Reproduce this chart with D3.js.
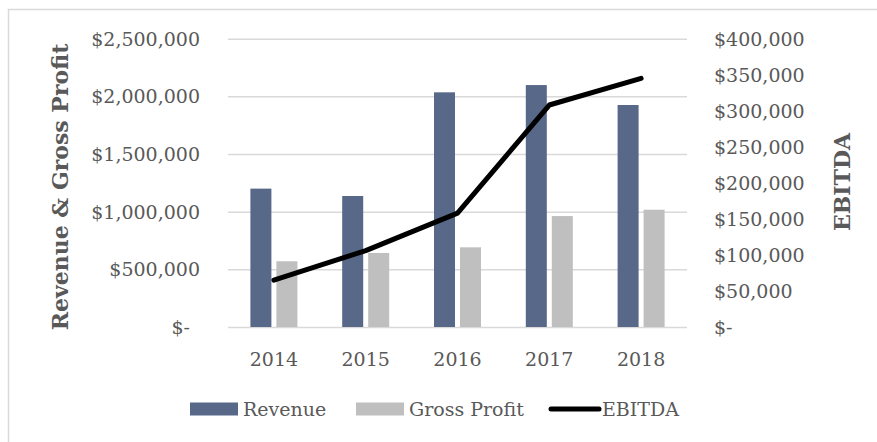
<!DOCTYPE html>
<html>
<head>
<meta charset="utf-8">
<script src="https://cdn.jsdelivr.net/npm/d3@7"></script>
<style>
	body { margin: 0; background: #fff; }
</style>
</head>
<body>
<svg></svg>
<script>
const years = ['2014', '2015', '2016', '2017', '2018'];
const revenue = [1200000, 1136000, 2035000, 2098000, 1925000];
const grossProfit = [570000, 642000, 691000, 962000, 1017000];
const ebitda = [65000, 106000, 158000, 308000, 345000];
const leftTicks = [0, 500000, 1000000, 1500000, 2000000, 2500000];
const rightTicks = [0, 50000, 100000, 150000, 200000, 250000, 300000, 350000, 400000];

const width = 877;
const height = 442;
const margin = { top: 38.7, right: 190, bottom: 115, left: 228 };
const innerWidth = width - margin.left - margin.right;
const innerHeight = height - margin.top - margin.bottom;
const barWidth = 21;
const barGap = 5;

const fontFamily = "'DejaVu Serif', serif";
const tickFontSize = 19;
const textColor = '#595959';
const revenueColor = '#586889';
const grossColor = '#bfbfbf';
const gridColor = '#d9d9d9';

const svg = d3.select('svg')
	.attr('width', width)
	.attr('height', height)
	.style('display', 'block');

// outer chart border (right and bottom edges fall outside the picture)
svg.append('path')
	.attr('d', `M8.5,${height}V9.5H${width}`)
	.attr('fill', 'none')
	.attr('stroke', gridColor)
	.attr('stroke-width', 1.5);

const g = svg.append('g')
	.attr('transform', `translate(${margin.left},${margin.top})`);

const xScale = d3.scaleBand()
	.domain(years)
	.range([0, innerWidth]);

const yLeft = d3.scaleLinear()
	.domain([0, 2500000])
	.range([innerHeight, 0]);

const yRight = d3.scaleLinear()
	.domain([0, 400000])
	.range([innerHeight, 0]);

const money = d => d === 0 ? '$-' : '$' + d3.format(',')(d);

// gridlines only; labels are placed below as plain text
const gridG = g.append('g')
	.call(d3.axisLeft(yLeft)
		.tickValues(leftTicks)
		.tickFormat('')
		.tickSize(-innerWidth));
gridG.select('.domain').remove();
gridG.selectAll('.tick line')
	.attr('stroke', gridColor)
	.attr('stroke-width', 1.5);

function tickText(sel) {
	sel.attr('font-family', fontFamily)
		.attr('font-size', tickFontSize)
		.attr('fill', textColor);
}

svg.selectAll('text.left-tick').data(leftTicks)
	.enter().append('text')
		.attr('class', 'left-tick')
		.call(tickText)
		.attr('text-anchor', 'end')
		.attr('x', d => d === 0 ? 190 : 200)
		.attr('y', d => margin.top + yLeft(d) + 7)
		.text(money);

svg.selectAll('text.right-tick').data(rightTicks)
	.enter().append('text')
		.attr('class', 'right-tick')
		.call(tickText)
		.attr('text-anchor', 'start')
		.attr('x', margin.left + innerWidth + 27)
		.attr('y', d => margin.top + yRight(d) + 7)
		.text(money);

const groupCenter = d => xScale(d) + xScale.bandwidth() / 2;

svg.selectAll('text.x-tick').data(years)
	.enter().append('text')
		.attr('class', 'x-tick')
		.call(tickText)
		.attr('text-anchor', 'middle')
		.attr('x', d => margin.left + groupCenter(d))
		.attr('y', margin.top + innerHeight + 39)
		.text(d => d);

// bars
g.selectAll('rect.revenue').data(years)
	.enter().append('rect')
		.attr('class', 'revenue')
		.attr('x', d => groupCenter(d) - barGap / 2 - barWidth)
		.attr('width', barWidth)
		.attr('y', (d, i) => yLeft(revenue[i]))
		.attr('height', (d, i) => innerHeight - yLeft(revenue[i]))
		.attr('fill', revenueColor);

g.selectAll('rect.gross').data(years)
	.enter().append('rect')
		.attr('class', 'gross')
		.attr('x', d => groupCenter(d) + barGap / 2)
		.attr('width', barWidth)
		.attr('y', (d, i) => yLeft(grossProfit[i]))
		.attr('height', (d, i) => innerHeight - yLeft(grossProfit[i]))
		.attr('fill', grossColor);

// EBITDA line
const line = d3.line()
	.x((d, i) => groupCenter(years[i]))
	.y(d => yRight(d));

g.append('path')
	.datum(ebitda)
	.attr('d', line)
	.attr('fill', 'none')
	.attr('stroke', '#000')
	.attr('stroke-width', 5)
	.attr('stroke-linecap', 'round')
	.attr('stroke-linejoin', 'round');

// axis titles
svg.append('text')
	.attr('transform', 'translate(68,187) rotate(-90)')
	.attr('text-anchor', 'middle')
	.attr('font-family', fontFamily)
	.attr('font-weight', 'bold')
	.attr('font-size', 22)
	.attr('fill', textColor)
	.text('Revenue & Gross Profit');

svg.append('text')
	.attr('transform', 'translate(850,182) rotate(-90)')
	.attr('text-anchor', 'middle')
	.attr('font-family', fontFamily)
	.attr('font-weight', 'bold')
	.attr('font-size', 22)
	.attr('fill', textColor)
	.text('EBITDA');

// legend
const legend = svg.append('g');
const legendItems = [
	{ label: 'Revenue', x: 190, type: 'rect', color: revenueColor },
	{ label: 'Gross Profit', x: 356, type: 'rect', color: grossColor },
	{ label: 'EBITDA', x: 549, type: 'line', color: '#000' }
];
const legendY = 409;

legendItems.forEach(item => {
	if (item.type === 'rect') {
		legend.append('rect')
			.attr('x', item.x)
			.attr('y', legendY - 6.5)
			.attr('width', 48)
			.attr('height', 13)
			.attr('fill', item.color);
	} else {
		legend.append('line')
			.attr('x1', item.x + 2)
			.attr('x2', item.x + 50)
			.attr('y1', legendY)
			.attr('y2', legendY)
			.attr('stroke', item.color)
			.attr('stroke-width', 5)
			.attr('stroke-linecap', 'round');
	}
	legend.append('text')
		.attr('x', item.x + 53)
		.attr('y', legendY)
		.attr('dy', '0.36em')
		.attr('font-family', fontFamily)
		.attr('font-size', 19)
		.attr('fill', textColor)
		.text(item.label);
});
</script>
</body>
</html>
